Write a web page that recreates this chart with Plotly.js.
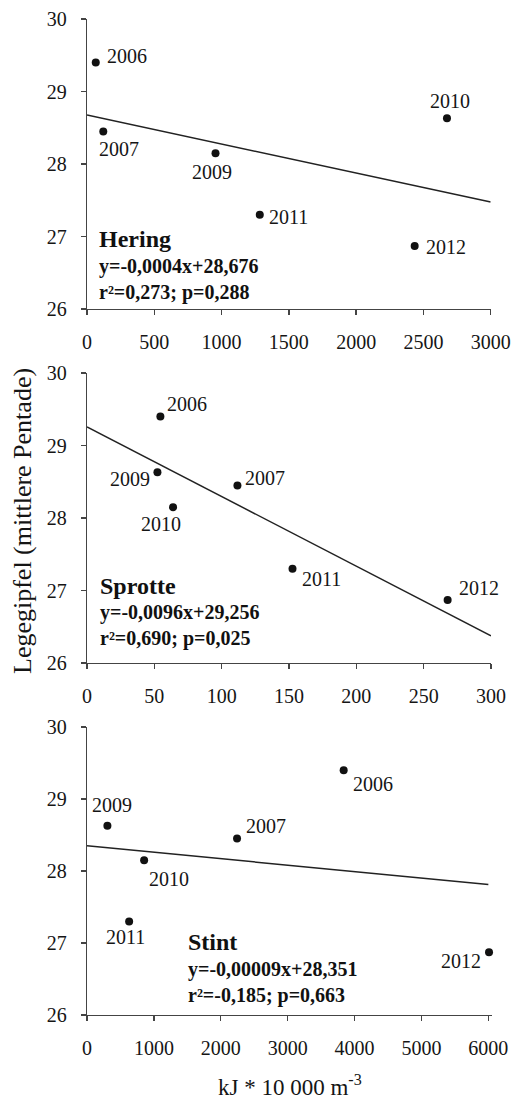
<!DOCTYPE html>
<html>
<head>
<meta charset="utf-8">
<script src="https://cdn.plot.ly/plotly-3.0.1.min.js"></script>
<style>html,body{margin:0;padding:0;background:#fff;}#chart{width:516px;height:1102px;}</style>
</head>
<body>
<div id="chart"></div>
<script>
// ---- data ----
const heringYears = ['2006','2007','2009','2011','2012','2010'];
const heringX = [65, 121, 955, 1284, 2435, 2675];
const heringY = [29.40, 28.45, 28.15, 27.30, 26.87, 28.63];

const sprotteYears = ['2006','2009','2010','2007','2011','2012'];
const sprotteX = [54.5, 52.3, 63.9, 111.7, 152.6, 267.8];
const sprotteY = [29.40, 28.63, 28.15, 28.45, 27.30, 26.87];

const stintYears = ['2009','2010','2011','2007','2006','2012'];
const stintX = [305, 854, 630, 2243, 3837, 6010];
const stintY = [28.63, 28.15, 27.30, 28.45, 29.40, 26.87];

const species = ['Hering', 'Sprotte', 'Stint'];
const slopes = [-0.0004, -0.0096, -0.00009];
const intercepts = [28.676, 29.256, 28.351];
const equations = ['y=-0,0004x+28,676', 'y=-0,0096x+29,256', 'y=-0,00009x+28,351'];
const stats = ['r²=0,273; p=0,288', 'r²=0,690; p=0,025', 'r²=-0,185; p=0,663'];
const xMax = [3000, 300, 6000];
const xDtick = [500, 50, 1000];
const yTicks = [26, 27, 28, 29, 30];
const yTitle = 'Legegipfel (mittlere Pentade)';
const xTitle = 'kJ * 10 000 m<sup>-3</sup>';

// ---- style / placement ----
const W = 516, H = 1102, ML = 87, MR = 24;
const PW = W - ML - MR;
const FONT = 'Liberation Serif, Times New Roman, serif';
const TXT = '#151515';
// label offsets [xanchor, xshift, yshift(px, positive = up)]
const heringLab = [['left',9,7],['center',16,-18],['center',-4,-19],['left',7,-2],['left',9,-1],['center',3,17]];
const sprotteLab = [['left',5,12],['right',-5,-7],['center',-12,-17],['left',6,7],['left',7,-10],['left',9,12]];
const stintLab = [['center',5,21],['left',3,-19],['center',-4,-16],['left',7,13],['left',7,-14],['right',-6,-9]];
// pixel boxes [top,bottom]
const panelsPx = [[19,309],[373,663],[727,1015]];
// pixel of right end of axis range
const xEndPx = [490.7, 491, 491.7];
const xRangeEnd = [3000, 300, 6050];
// text block positions [left px, name center y, eq center y]
const blockPx = [[96.7,239.3,279.7],[98.3,585.7,625],[186,942.3,982]];

const px2x = p => (p - ML) / PW;
const px2y = p => 1 - p / H;

const sets = [
  [heringYears, heringX, heringY, heringLab],
  [sprotteYears, sprotteX, sprotteY, sprotteLab],
  [stintYears, stintX, stintY, stintLab]
];

const data = [];
const annotations = [];
const layout = {
  width: W, height: H,
  margin: {l: ML, r: MR, t: 0, b: 0},
  paper_bgcolor: '#fff', plot_bgcolor: '#fff',
  showlegend: false,
  font: {family: FONT, color: TXT, size: 20},
  annotations: annotations
};

sets.forEach((s, i) => {
  const n = i === 0 ? '' : String(i + 1);
  const xa = 'x' + n, ya = 'y' + n;
  data.push({
    x: s[1], y: s[2], xaxis: xa, yaxis: ya, type: 'scatter', mode: 'markers',
    marker: {color: '#111', size: 8}, hoverinfo: 'skip', cliponaxis: false
  });
  const lx = [0, xMax[i]];
  data.push({
    x: lx, y: lx.map(v => intercepts[i] + slopes[i] * v), xaxis: xa, yaxis: ya,
    type: 'scatter', mode: 'lines', line: {color: '#222', width: 1.5}, hoverinfo: 'skip'
  });
  s[0].forEach((yr, k) => {
    annotations.push({
      x: s[1][k], y: s[2][k], xref: xa, yref: ya, text: yr, showarrow: false,
      xanchor: s[3][k][0], yanchor: 'middle', xshift: s[3][k][1], yshift: s[3][k][2],
      font: {family: FONT, size: 20, color: TXT}
    });
  });
  const b = blockPx[i];
  annotations.push({
    x: px2x(b[0]), y: px2y(b[1]), xref: 'paper', yref: 'paper', showarrow: false,
    xanchor: 'left', yanchor: 'middle', text: '<b>' + species[i] + '</b>',
    font: {family: FONT, size: 24, color: '#111'}
  });
  annotations.push({
    x: px2x(b[0]), y: px2y(b[2]), xref: 'paper', yref: 'paper', showarrow: false,
    xanchor: 'left', yanchor: 'middle', align: 'left',
    text: '<b>' + equations[i] + '<br>' + stats[i] + '</b>',
    font: {family: FONT, size: 20, color: '#111'}
  });
  const p = panelsPx[i];
  layout['xaxis' + n] = {
    anchor: ya, domain: [0, px2x(xEndPx[i])], range: [0, xRangeEnd[i]], dtick: xDtick[i], tick0: 0,
    showgrid: false, zeroline: false, showline: true, linecolor: '#444', linewidth: 1.3,
    ticks: 'outside', ticklen: 5, tickcolor: '#444', tickwidth: 1.3,
    ticklabelstandoff: 10, tickfont: {family: FONT, size: 20, color: TXT},
    fixedrange: true
  };
  layout['yaxis' + n] = {
    anchor: xa, domain: [px2y(p[1]), px2y(p[0])], range: [26, 30], tickvals: yTicks,
    showgrid: false, zeroline: false, showline: true, linecolor: '#444', linewidth: 1.3,
    ticks: 'outside', ticklen: 5, tickcolor: '#444', tickwidth: 1.3,
    ticklabelstandoff: 10, tickfont: {family: FONT, size: 20, color: TXT},
    fixedrange: true
  };
});

annotations.push({
  x: px2x(22), y: px2y(521), xref: 'paper', yref: 'paper', showarrow: false,
  textangle: -90, text: yTitle, xanchor: 'center', yanchor: 'middle',
  font: {family: FONT, size: 26, color: TXT}
});
annotations.push({
  x: px2x(290), y: px2y(1085), xref: 'paper', yref: 'paper', showarrow: false,
  text: xTitle, xanchor: 'center', yanchor: 'middle',
  font: {family: FONT, size: 23, color: TXT}
});

Plotly.newPlot('chart', data, layout, {displayModeBar: false, staticPlot: true});
</script>
</body>
</html>
